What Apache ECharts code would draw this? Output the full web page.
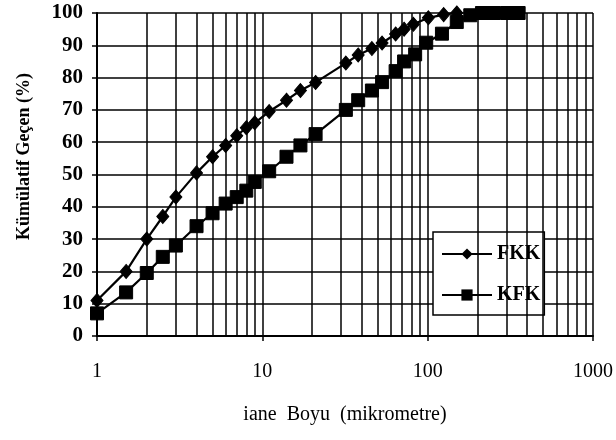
<!DOCTYPE html>
<html>
<head>
<meta charset="utf-8">
<title>Kümülatif Geçen</title>
<script src="https://cdn.jsdelivr.net/npm/echarts@6/dist/echarts.min.js"></script>
<style>
  html, body { margin: 0; padding: 0; background: #fff; }
  #chart { width: 616px; height: 440px; }
</style>
</head>
<body>
<div id="chart"></div>
<script>
// tane boyu (mikrometre)
var fkkSize = [1, 1.5, 2, 2.5, 3, 4, 5, 6, 7, 8, 9, 11, 14, 17, 21, 32, 38, 46, 53, 64, 72, 82, 101, 125, 150];
var fkkPass = [11, 20, 30, 37, 43, 50.5, 55.5, 59, 62, 64.5, 66, 69.5, 73, 76, 78.5, 84.5, 87, 89, 90.7, 93.5, 95, 96.5, 98.5, 99.5, 100];
var kfkSize = [1, 1.5, 2, 2.5, 3, 4, 5, 6, 7, 8, 9, 11, 14, 17, 21, 32, 38, 46, 53, 64, 72, 84, 98, 122, 150, 181, 213, 251, 302, 355];
var kfkPass = [7, 13.5, 19.5, 24.5, 28, 34, 38, 41, 43, 45, 47.7, 51, 55.5, 59, 62.5, 70, 73, 76, 78.6, 82, 85, 87.2, 90.8, 93.6, 97.2, 99.3, 100, 100, 100, 100];
// ara log cizgileri
var minorLines = [2, 3, 4, 5, 6, 7, 8, 9, 20, 30, 40, 50, 60, 70, 80, 90, 200, 300, 400, 500, 600, 700, 800, 900];

function pairs(xs, ys) {
  return xs.map(function (x, i) { return [x, ys[i]]; });
}

var serif = '"Liberation Serif", "DejaVu Serif", serif';
var chart = echarts.init(document.getElementById('chart'));

var option = {
  animation: false,
  backgroundColor: '#fff',
  grid: { left: 97, right: 23, top: 13, bottom: 104, containLabel: false },
  legend: {
    data: ['FKK', 'KFK'],
    orient: 'vertical',
    left: 433,
    top: 232,
    width: 115,
    padding: [12, 4, 10, 8],
    itemGap: 21,
    itemWidth: 50,
    itemHeight: 14,
    backgroundColor: '#fff',
    borderColor: '#000',
    borderWidth: 1.5,
    borderRadius: 0,
    textStyle: { fontFamily: serif, fontWeight: 'bold', fontSize: 20, color: '#000' }
  },
  xAxis: {
    type: 'log',
    logBase: 10,
    min: 1,
    max: 1000,
    name: 'iane  Boyu  (mikrometre)',
    nameLocation: 'middle',
    nameGap: 69,
    nameTextStyle: { fontFamily: serif, fontSize: 20, color: '#000' },
    axisLine: { lineStyle: { color: '#000', width: 2 } },
    axisTick: { show: true, length: 5, lineStyle: { color: '#000', width: 1.5 } },
    axisLabel: {
      fontFamily: serif, fontSize: 20, color: '#000', margin: 26,
      formatter: function (v) { return String(v); }
    },
    splitLine: { show: true, lineStyle: { color: '#000', width: 1.5 } }
  },
  yAxis: {
    type: 'value',
    min: 0,
    max: 100,
    interval: 10,
    name: 'Kümülatif Geçen (%)',
    nameLocation: 'middle',
    nameGap: 64,
    nameTextStyle: { fontFamily: serif, fontWeight: 'bold', fontSize: 18, color: '#000', padding: [0, 0, 0, 36] },
    axisLine: { show: true, lineStyle: { color: '#000', width: 2 } },
    axisTick: { show: true, length: 5, lineStyle: { color: '#000', width: 1.5 } },
    axisLabel: { fontFamily: serif, fontWeight: 'bold', fontSize: 21, color: '#000', margin: 14 },
    splitLine: { show: true, lineStyle: { color: '#000', width: 1.5 } }
  },
  series: [
    {
      name: 'grid',
      type: 'line',
      data: [],
      silent: true,
      z: 1,
      markLine: {
        silent: true,
        symbol: 'none',
        label: { show: false },
        lineStyle: { color: '#000', width: 1.5, type: 'solid' },
        data: minorLines.map(function (v) { return { xAxis: v }; })
      }
    },
    {
      name: 'FKK',
      type: 'line',
      data: pairs(fkkSize, fkkPass),
      symbol: 'diamond',
      symbolSize: [12, 14],
      z: 3,
      lineStyle: { color: '#000', width: 2.2 },
      itemStyle: { color: '#000', borderColor: '#000' }
    },
    {
      name: 'KFK',
      type: 'line',
      data: pairs(kfkSize, kfkPass),
      symbol: 'rect',
      symbolSize: 13,
      z: 3,
      lineStyle: { color: '#000', width: 2.2 },
      itemStyle: { color: '#000', borderColor: '#000' }
    }
  ]
};

chart.setOption(option);
</script>
</body>
</html>
